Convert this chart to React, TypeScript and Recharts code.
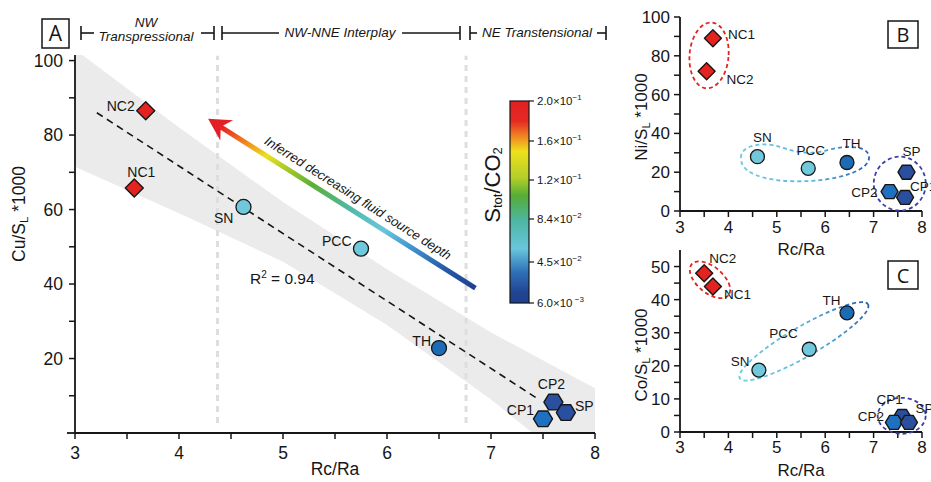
import React from "react";
import {
  ComposedChart,
  ScatterChart,
  Scatter,
  Area,
  XAxis,
  YAxis,
  ReferenceLine,
  ReferenceDot,
} from "recharts";

const FONT = "'Liberation Sans', Arial, Helvetica, sans-serif";
const INK = "#161616";

const sites = ["NC1", "NC2", "SN", "PCC", "TH", "CP1", "CP2", "SP"];

// panel A: Cu/SL*1000 vs Rc/Ra
const rcRaA = [3.57, 3.68, 4.62, 5.75, 6.5, 7.5, 7.6, 7.72];
const cuSL = [65.8, 86.5, 60.7, 49.5, 22.8, 3.8, 8.3, 5.5];

// panel B: Ni/SL*1000
const rcRaB = [3.68, 3.55, 4.6, 5.65, 6.45, 7.65, 7.33, 7.68];
const niSL = [89, 72, 28, 22, 25, 7, 10, 20];

// panel C: Co/SL*1000
const rcRaC = [3.68, 3.5, 4.63, 5.67, 6.45, 7.59, 7.42, 7.73];
const coSL = [44, 48, 18.7, 25, 36, 4.7, 2.9, 2.9];

// regression (R2 = 0.94) and grey envelope in A
const fitX = [3.21, 7.46];
const fitY = [86, 9];
const bandX = [3, 4, 5, 6, 6.5, 7, 7.4, 8];
const bandLow = [71.5, 59, 46, 29, 19, 9, 0, 0];
const bandHigh = [103, 82, 62, 44, 35.5, 27, 21, 12];

// structural domain limits (Rc/Ra)
const domainBreaks = [4.37, 6.76];

// fluid source depth arrow: shaft tail -> shaft end, tip
const arrowX = [6.85, 4.4];
const arrowY = [38.9, 82.2];
const arrowTip = [4.28, 84.4];

// colour scale labels (S_tot/CO2)
const cbarLabels = [
  ["2.0", "−1"],
  ["1.6", "−1"],
  ["1.2", "−1"],
  ["8.4", "−2"],
  ["4.5", "−2"],
  ["6.0", " −3"],
];

const xTicks = [3, 3.5, 4, 4.5, 5, 5.5, 6, 6.5, 7, 7.5, 8];
const yTicks100 = [10, 20, 30, 40, 50, 60, 70, 80, 90, 100];
const yTicksB = [0, 10, 20, 30, 40, 50, 60, 70, 80, 90, 100];
const yTicksC = [0, 5, 10, 15, 20, 25, 30, 35, 40, 45, 50];

const RED = "#e3231f";
const CYAN = "#6fc8dc";
const TH_BLUE = "#1b6cb5";
const HEX_LIGHT = "#1f70c0";
const HEX_DARK = "#2a4f9f";

const fillA: Record<string, string> = {
  NC1: RED, NC2: RED, SN: CYAN, PCC: CYAN, TH: TH_BLUE, CP1: HEX_LIGHT, CP2: HEX_DARK, SP: HEX_DARK,
};
const fillBC: Record<string, string> = {
  NC1: RED, NC2: RED, SN: CYAN, PCC: CYAN, TH: TH_BLUE, CP1: HEX_DARK, CP2: HEX_LIGHT, SP: HEX_DARK,
};

type Lbl = [number, number, "start" | "middle" | "end"];
const labelsA: Record<string, Lbl> = {
  NC2: [-11, 0, "end"], NC1: [7, -11, "middle"], SN: [-10, 16, "end"], PCC: [-9.5, -3, "end"],
  TH: [-8, -2, "end"], CP2: [-2, -13, "middle"], SP: [9, -1.5, "start"], CP1: [-9, -4, "end"],
};
const labelsB: Record<string, Lbl> = {
  NC1: [15, 1, "start"], NC2: [20, 13, "start"], SN: [5, -15, "middle"], PCC: [2.5, -13.5, "middle"],
  TH: [4.5, -15, "middle"], SP: [5, -16.5, "middle"], CP1: [5, -6, "start"], CP2: [-12, 5, "end"],
};
const labelsC: Record<string, Lbl> = {
  NC2: [5, -10, "start"], NC1: [11, 12.5, "start"], SN: [-9.5, -4, "end"], PCC: [-11.5, -11.5, "end"],
  TH: [-6.5, -7.5, "end"], CP1: [-12.5, -12, "middle"], CP2: [-10, -1, "end"], SP: [6.5, -9, "start"],
};

const rows = (xs: number[], ys: number[]) => sites.map((name, i) => ({ x: xs[i], y: ys[i], name }));
const band = bandX.map((x, i) => ({ x, range: [bandLow[i], bandHigh[i]] }));

const intOnly = (v: number) => (Number.isInteger(v) ? String(v) : "");
const every = (n: number) => (v: number) => (v % n === 0 ? String(v) : "");

function hexPoints(cx: number, cy: number, r: number) {
  const pts: string[] = [];
  for (let k = 0; k < 6; k++) {
    const a = (Math.PI / 3) * k;
    pts.push(`${cx + r * Math.cos(a)},${cy + r * Math.sin(a) * 0.95}`);
  }
  return pts.join(" ");
}

const makeShape =
  (fills: Record<string, string>, labels: Record<string, Lbl>, s: { d: number; r: number; h: number; font: number }) =>
  (p: any) => {
    const { cx, cy, payload } = p;
    const n: string = payload.name;
    const fill = fills[n];
    let mark;
    if (n.startsWith("NC")) {
      mark = (
        <polygon
          points={`${cx},${cy - s.d} ${cx + s.d},${cy} ${cx},${cy + s.d} ${cx - s.d},${cy}`}
          fill={fill} stroke={INK} strokeWidth={1.4} strokeLinejoin="round"
        />
      );
    } else if (n.startsWith("CP") || n === "SP") {
      mark = <polygon points={hexPoints(cx, cy, s.h)} fill={fill} stroke={INK} strokeWidth={1.4} strokeLinejoin="round" />;
    } else {
      mark = <circle cx={cx} cy={cy} r={s.r} fill={fill} stroke={INK} strokeWidth={1.3} />;
    }
    const [dx, dy, anchor] = labels[n];
    return (
      <g>
        {mark}
        <text x={cx + dx} y={cy + dy} textAnchor={anchor} fontSize={s.font} fontFamily={FONT} fill={INK}>
          {n}
        </text>
      </g>
    );
  };

const ellipse = (rx: number, ry: number, rot: number, stroke: string) => (p: any) => (
  <ellipse
    cx={p.cx} cy={p.cy} rx={rx} ry={ry}
    transform={`rotate(${rot} ${p.cx} ${p.cy})`}
    fill="none" stroke={stroke} strokeWidth={1.8} strokeDasharray="4 3"
  />
);

const blobB = (p: any) => (
  <path
    transform={`translate(${p.cx} ${p.cy})`}
    d="M -64,-4 C -64,-18 -40,-20 -25,-15 C -10,-10 5,-7 20,-11 C 35,-16 62,-18 64,-6 C 66,4 50,12 30,16 C 10,20 -20,21 -40,16 C -55,12 -64,6 -64,-4 Z"
    fill="none" stroke="url(#gBlob)" strokeWidth={1.8} strokeDasharray="4 3"
  />
);

const arrowHead = (p: any) => (
  <polygon
    transform={`translate(${p.cx} ${p.cy}) rotate(32.4)`}
    points="0,0 22,12 15,0 22,-12"
    fill="#e31e24"
  />
);

const axisStyle = { stroke: INK, strokeWidth: 1.8 };
const tickLineStyle = { stroke: INK, strokeWidth: 1.5 };

function YTitle({ x, y, main, sub, tail, fs }: { x: number; y: number; main: string; sub: string; tail: string; fs: number }) {
  return (
    <text
      x={x} y={y} transform={`rotate(-90 ${x} ${y})`} textAnchor="middle" dominantBaseline="central"
      fontSize={fs} fontFamily={FONT} fill={INK}
    >
      <tspan>{main}</tspan>
      <tspan fontSize={fs * 0.65} dy={5}>{sub}</tspan>
      <tspan dy={-5}>{tail}</tspan>
    </text>
  );
}

function Bracket({ x1, x2, t1, t2 }: { x1: number; x2: number; t1: number; t2: number }) {
  const y = 33;
  return (
    <g stroke={INK} strokeWidth={1.6}>
      <line x1={x1} y1={y - 7} x2={x1} y2={y + 7} />
      <line x1={x2} y1={y - 7} x2={x2} y2={y + 7} />
      <line x1={x1} y1={y} x2={t1} y2={y} />
      <line x1={t2} y1={y} x2={x2} y2={y} />
    </g>
  );
}

export default function App() {
  const dataA = rows(rcRaA, cuSL);
  const dataB = rows(rcRaB, niSL);
  const dataC = rows(rcRaC, coSL);

  const cbarY = [101, 141, 180, 219, 262, 303];

  return (
    <div style={{ position: "absolute", left: 0, top: 0, width: 931, height: 482, background: "#fff", overflow: "hidden" }}>
      <svg width={1} height={1} style={{ position: "absolute", left: 0, top: 0 }}>
        <defs>
          <linearGradient id="gArrow" x1="1" y1="1" x2="0" y2="0">
            <stop offset="0" stopColor="#1f3f92" />
            <stop offset="0.12" stopColor="#2659a8" />
            <stop offset="0.25" stopColor="#3f94cf" />
            <stop offset="0.36" stopColor="#68c6dc" />
            <stop offset="0.5" stopColor="#4fb8a2" />
            <stop offset="0.64" stopColor="#5cb034" />
            <stop offset="0.74" stopColor="#a6c92a" />
            <stop offset="0.82" stopColor="#ece11a" />
            <stop offset="0.9" stopColor="#f08a20" />
            <stop offset="1" stopColor="#e31e24" />
          </linearGradient>
          <linearGradient id="gBar" x1="0" y1="0" x2="0" y2="1">
            <stop offset="0" stopColor="#e31e24" />
            <stop offset="0.1" stopColor="#e52a22" />
            <stop offset="0.17" stopColor="#f07f22" />
            <stop offset="0.25" stopColor="#efe01c" />
            <stop offset="0.38" stopColor="#b3ce2a" />
            <stop offset="0.47" stopColor="#55ad36" />
            <stop offset="0.59" stopColor="#4db6a0" />
            <stop offset="0.73" stopColor="#68c7dc" />
            <stop offset="0.85" stopColor="#2e6fb8" />
            <stop offset="0.95" stopColor="#214493" />
            <stop offset="1" stopColor="#1f3f91" />
          </linearGradient>
          <linearGradient id="gBlob" x1="0" y1="0" x2="1" y2="0">
            <stop offset="0" stopColor="#6fcbe0" />
            <stop offset="0.55" stopColor="#5ab6dc" />
            <stop offset="1" stopColor="#2a5fb2" />
          </linearGradient>
        </defs>
      </svg>

      {/* Panel A */}
      <div style={{ position: "absolute", left: 0, top: 0 }}>
        <ComposedChart width={620} height={482} data={band} margin={{ top: 55, right: 25, bottom: 0, left: 0 }}>
          <XAxis
            type="number" dataKey="x" domain={[3, 8]} ticks={xTicks} tickFormatter={intOnly} height={49}
            axisLine={axisStyle} tickLine={tickLineStyle} tickSize={6} tickMargin={8}
            tick={{ fontSize: 17.5, fill: INK, fontFamily: FONT }}
          />
          <YAxis
            type="number" dataKey="y" domain={[0, 101.5]} allowDataOverflow ticks={yTicks100}
            tickFormatter={every(20)} width={75}
            axisLine={axisStyle} tickLine={tickLineStyle} tickSize={6} tickMargin={6}
            tick={{ fontSize: 17.5, fill: INK, fontFamily: FONT }}
          />
          <Area
            dataKey="range" type="linear" stroke="none" fill="#ebebeb" fillOpacity={1}
            dot={false} activeDot={false} isAnimationActive={false}
          />
          {domainBreaks.map((b) => (
            <ReferenceLine
              key={b}
              segment={[{ x: b, y: 2.7 }, { x: b, y: 101.3 }]}
              stroke="#dedede" strokeWidth={3} strokeDasharray="6 5"
            />
          ))}
          <ReferenceLine
            segment={[{ x: fitX[0], y: fitY[0] }, { x: fitX[1], y: fitY[1] }]}
            stroke={INK} strokeWidth={1.6} strokeDasharray="7 5"
          />
          <ReferenceLine
            segment={[{ x: arrowX[0], y: arrowY[0] }, { x: arrowX[1], y: arrowY[1] }]}
            stroke="url(#gArrow)" strokeWidth={5}
          />
          <ReferenceDot x={arrowTip[0]} y={arrowTip[1]} r={1} shape={arrowHead} />
          <Scatter data={dataA} shape={makeShape(fillA, labelsA, { d: 9, r: 7.5, h: 9.5, font: 14 })} isAnimationActive={false} />
        </ComposedChart>
      </div>

      {/* Panel B */}
      <div style={{ position: "absolute", left: 620, top: 0 }}>
        <ScatterChart width={311} height={250} margin={{ top: 17, right: 9, bottom: 0, left: 0 }}>
          <XAxis
            type="number" dataKey="x" domain={[3, 8]} ticks={xTicks} tickFormatter={intOnly} height={39}
            axisLine={axisStyle} tickLine={tickLineStyle} tickSize={6} tickMargin={4}
            tick={{ fontSize: 17, fill: INK, fontFamily: FONT }}
          />
          <YAxis
            type="number" dataKey="y" domain={[0, 100]} allowDataOverflow ticks={yTicksB}
            tickFormatter={every(20)} width={60}
            axisLine={axisStyle} tickLine={tickLineStyle} tickSize={6} tickMargin={4}
            tick={{ fontSize: 17, fill: INK, fontFamily: FONT }}
          />
          <ReferenceDot x={3.6} y={80.2} r={1} shape={ellipse(19.5, 33, 5, "#e3231f")} />
          <ReferenceDot x={5.58} y={25.3} r={1} shape={blobB} />
          <ReferenceDot x={7.54} y={14.1} r={1} shape={ellipse(26, 27, 0, "#3b3fa6")} />
          <Scatter data={dataB} shape={makeShape(fillBC, labelsB, { d: 8.5, r: 7, h: 8.5, font: 13.5 })} isAnimationActive={false} />
        </ScatterChart>
      </div>

      {/* Panel C */}
      <div style={{ position: "absolute", left: 620, top: 250 }}>
        <ScatterChart width={311} height={232} margin={{ top: 0, right: 9, bottom: 0, left: 0 }}>
          <XAxis
            type="number" dataKey="x" domain={[3, 8]} ticks={xTicks} tickFormatter={intOnly} height={50}
            axisLine={axisStyle} tickLine={tickLineStyle} tickSize={6} tickMargin={3}
            tick={{ fontSize: 17, fill: INK, fontFamily: FONT }}
          />
          <YAxis
            type="number" dataKey="y" domain={[0, 55]} allowDataOverflow ticks={yTicksC}
            tickFormatter={every(10)} width={60}
            axisLine={axisStyle} tickLine={tickLineStyle} tickSize={6} tickMargin={4}
            tick={{ fontSize: 17, fill: INK, fontFamily: FONT }}
          />
          <ReferenceDot x={3.62} y={46} r={1} shape={ellipse(24, 13, 40, "#e3231f")} />
          <ReferenceDot x={5.56} y={27.4} r={1} shape={(p: any) => (
            <ellipse
              cx={p.cx} cy={p.cy} rx={74} ry={15} transform={`rotate(-30 ${p.cx} ${p.cy})`}
              fill="none" stroke="url(#gBlob)" strokeWidth={1.8} strokeDasharray="4 3"
            />
          )} />
          <ReferenceDot x={7.58} y={4.9} r={1} shape={ellipse(24, 18, 0, "#3b3fa6")} />
          <Scatter data={dataC} shape={makeShape(fillBC, labelsC, { d: 8.5, r: 7, h: 8.5, font: 13.5 })} isAnimationActive={false} />
        </ScatterChart>
      </div>

      {/* text overlay */}
      <svg width={931} height={482} style={{ position: "absolute", left: 0, top: 0, pointerEvents: "none" }}>
        {/* x axis of A runs a little past the y axis */}
        <line x1={67} y1={433} x2={76} y2={433} stroke={INK} strokeWidth={1.8} />

        {/* panel tags */}
        <rect x={42} y={19} width={27} height={29} fill="#fff" stroke={INK} strokeWidth={1.5} />
        <text x={55.5} y={41} textAnchor="middle" fontSize={21} fontFamily="'Open Sans', sans-serif" fill={INK}>A</text>
        <rect x={888} y={21} width={30} height={27} fill="#fff" stroke={INK} strokeWidth={1.5} />
        <text x={903} y={42} textAnchor="middle" fontSize={20} fontFamily="'Open Sans', sans-serif" fill={INK}>B</text>
        <rect x={888} y={261} width={30} height={28} fill="#fff" stroke={INK} strokeWidth={1.5} />
        <text x={903} y={282.5} textAnchor="middle" fontSize={20} fontFamily="'Open Sans', sans-serif" fill={INK}>C</text>

        {/* structural domains */}
        <g fontFamily={FONT} fontStyle="italic" fontSize={13.5} fill={INK} textAnchor="middle">
          <Bracket x1={81} x2={214} t1={94} t2={201} />
          <text x={146} y={27}>NW</text>
          <text x={146} y={41}>Transpressional</text>
          <Bracket x1={222} x2={460} t1={279} t2={402} />
          <text x={340} y={37}>NW-NNE Interplay</text>
          <Bracket x1={470} x2={606} t1={477} t2={597} />
          <text x={537} y={37}>NE Transtensional</text>
        </g>

        {/* axis titles */}
        <text x={335} y={475} textAnchor="middle" fontSize={17.5} fontFamily={FONT} fill={INK}>Rc/Ra</text>
        <text x={801} y={255} textAnchor="middle" fontSize={17} fontFamily={FONT} fill={INK}>Rc/Ra</text>
        <text x={801} y={476} textAnchor="middle" fontSize={17} fontFamily={FONT} fill={INK}>Rc/Ra</text>
        <YTitle x={19} y={214} main="Cu/S" sub="L" tail=" *1000" fs={17.5} />
        <YTitle x={641} y={117} main="Ni/S" sub="L" tail=" *1000" fs={17} />
        <YTitle x={641} y={355} main="Co/S" sub="L" tail=" *1000" fs={17} />

        {/* R2 */}
        <text x={250} y={283.5} fontSize={15.5} fontFamily={FONT} fill={INK}>
          R<tspan fontSize={10} dy={-6}>2</tspan><tspan dy={6}> = 0.94</tspan>
        </text>

        {/* arrow caption */}
        <text
          x={358} y={198} transform="rotate(32.4 358 198)" textAnchor="middle" dominantBaseline="central"
          fontSize={13} fontStyle="italic" fontFamily={FONT} fill={INK}
        >
          Inferred decreasing fluid source depth
        </text>

        {/* colour bar */}
        <rect x={510} y={101} width={19} height={202} fill="url(#gBar)" stroke={INK} strokeWidth={1.2} />
        {cbarLabels.map(([m, e], i) => (
          <g key={i}>
            <line x1={529} y1={cbarY[i]} x2={534} y2={cbarY[i]} stroke={INK} strokeWidth={1.2} />
            <text x={537} y={cbarY[i] + 4} fontSize={11.5} fontFamily={FONT} fill={INK}>
              {m}×10<tspan fontSize={8} dy={-5}>{e}</tspan>
            </text>
          </g>
        ))}
        <text
          x={492} y={185} transform="rotate(-90 492 185)" textAnchor="middle" dominantBaseline="central"
          fontSize={22} fontFamily={FONT} fill={INK}
        >
          <tspan>S</tspan>
          <tspan fontSize={13} dy={5}>tot</tspan>
          <tspan dy={-5}>/CO</tspan>
          <tspan fontSize={13} dy={5}>2</tspan>
        </text>
      </svg>
    </div>
  );
}
